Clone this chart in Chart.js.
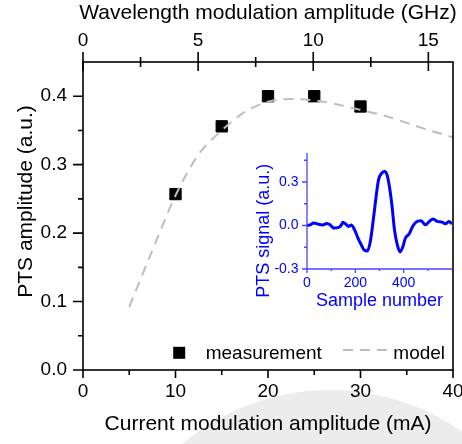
<!doctype html>
<html lang="en">

<head>
    <title>PTS amplitude</title>
    <meta charset="utf-8">
    <script src="https://cdn.jsdelivr.net/npm/chart.js"></script>
    <style>
        html,
        body {
            margin: 0;
            padding: 0;
            background: #fff;
        }

        .wrap {
            position: relative;
            width: 462px;
            height: 444px;
            overflow: hidden;
        }

        #main {
            position: absolute;
            left: 0;
            top: 0;
        }

        #inset {
            position: absolute;
            left: 230px;
            top: 140px;
        }
    </style>
</head>

<body>
    <div class="wrap">
        <canvas id="main" width="462" height="444"></canvas>
        <canvas id="inset" width="232" height="175"></canvas>
    </div>

    <script>

        // main plot: measured points and model curve
        var measCurrent = [10, 15, 20, 25, 30];
        var measAmplitude = [0.257, 0.356, 0.400, 0.400, 0.385];

        var modelCurrent = [5, 7.5, 10, 12.5, 15, 17.5, 20, 22.5, 25, 27.5, 30, 32.5, 35, 37.5, 40];
        var modelAmplitude = [0.092, 0.175, 0.255, 0.315, 0.350, 0.377, 0.392, 0.396, 0.394, 0.388, 0.380, 0.372, 0.361, 0.350, 0.340];

        var currentTicks = [0, 10, 20, 30, 40];
        var wavelengthTicks = [0, 5, 10, 15];
        var amplitudeTicks = [0, 0.1, 0.2, 0.3, 0.4];

        // inset: PTS signal vs sample number
        var sampleNumber = [0, 14, 27, 48, 65, 83, 96, 110, 131, 142, 148, 161, 172, 183, 197, 211, 225, 238, 250, 262,
            276, 286, 296, 310, 321, 331, 341, 352, 362, 374, 385, 396, 407, 423, 437, 451, 472, 490, 506, 522,
            538, 559, 573, 587, 600];
        var ptsSignal = [0.000, 0.005, 0.018, 0.008, 0.004, 0.014, 0.004, -0.017, -0.013, 0.002, 0.022, 0.009, -0.007, 0.004, -0.030, -0.087, -0.135, -0.172, -0.175, -0.110,
            0.062, 0.200, 0.315, 0.362, 0.373, 0.350, 0.269, 0.131, -0.030, -0.135, -0.182, -0.150, -0.088, -0.057, -0.007, 0.023, 0.032, 0.005, 0.028, 0.045,
            0.028, 0.023, 0.012, 0.028, 0.012];

        var sampleTicks = [0, 200, 400];
        var signalTicks = [-0.3, 0, 0.3];

        var FONT = "'Liberation Sans', Arial, sans-serif";
        var BLUE = '#0000ff';
        var GREY = '#bdbdbd';

        function pairs(xs, ys) {
            var out = [];
            for (var i = 0; i < xs.length; i++) {
                out.push({ x: xs[i], y: ys[i] });
            }
            return out;
        }

        function fixedTicks(values) {
            return function (scale) {
                scale.ticks = values.map(function (v) { return { value: v }; });
            };
        }

        function fixSize(w, h) {
            return function (scale) {
                if (w !== null) scale.width = w;
                if (h !== null) scale.height = h;
                scale.paddingLeft = 0;
                scale.paddingRight = 0;
                scale.paddingTop = 0;
                scale.paddingBottom = 0;
            };
        }

        // major ticks come from the scale, minor ticks sit half way between them
        function drawTicks(ctx, scale, outMajor, inMajor, outMinor, inMinor) {
            var area = scale.chart.chartArea;
            var majors = scale.ticks.map(function (t) { return t.value; });
            var minors = [];
            for (var i = 0; i < majors.length; i++) {
                var step = i < majors.length - 1 ? majors[i + 1] - majors[i] : majors[1] - majors[0];
                var m = majors[i] + step / 2;
                if (m < scale.max - 1e-9) minors.push(m);
            }

            function one(v, outLen, inLen) {
                var p = scale.getPixelForValue(v);
                if (scale.position === 'bottom') {
                    ctx.moveTo(p, area.bottom - inLen);
                    ctx.lineTo(p, area.bottom + outLen);
                } else if (scale.position === 'top') {
                    ctx.moveTo(p, area.top + inLen);
                    ctx.lineTo(p, area.top - outLen);
                } else {
                    ctx.moveTo(area.left + inLen, p);
                    ctx.lineTo(area.left - outLen, p);
                }
            }

            ctx.beginPath();
            majors.forEach(function (v) { one(v, outMajor, inMajor); });
            minors.forEach(function (v) { one(v, outMinor, inMinor); });
            ctx.stroke();
        }

        var mainDecor = {
            id: 'mainDecor',
            beforeDraw: function (chart) {
                var ctx = chart.ctx;
                // faint round watermark behind the bottom title
                ctx.save();
                ctx.fillStyle = '#ececec';
                ctx.beginPath();
                ctx.arc(330, 620, 230, 0, Math.PI * 2);
                ctx.fill();
                ctx.restore();
            },
            afterDraw: function (chart) {
                var ctx = chart.ctx;
                var a = chart.chartArea;
                var cx = (a.left + a.right) / 2;

                ctx.save();
                ctx.strokeStyle = '#000';
                ctx.lineWidth = 1.6;
                ctx.strokeRect(a.left, a.top, a.right - a.left, a.bottom - a.top);
                drawTicks(ctx, chart.scales.x, 8, 0, 5, 0);
                drawTicks(ctx, chart.scales.x2, 10, 9, 5, 5);
                drawTicks(ctx, chart.scales.y, 10, 0, 5, 0);

                // axis titles
                ctx.fillStyle = '#000';
                ctx.font = '21px ' + FONT;
                ctx.textAlign = 'center';
                ctx.textBaseline = 'alphabetic';
                ctx.fillText('Wavelength modulation amplitude (GHz)', cx, 19);
                ctx.fillText('Current modulation amplitude (mA)', cx, 430);

                ctx.save();
                ctx.translate(31.5, 201.5);
                ctx.rotate(-Math.PI / 2);
                ctx.fillText('PTS amplitude (a.u.)', 0, 0);
                ctx.restore();

                // legend
                ctx.font = '19px ' + FONT;
                ctx.textAlign = 'left';
                ctx.fillRect(173.2, 346.8, 12, 12);
                ctx.fillText('measurement', 205.7, 359);

                ctx.strokeStyle = GREY;
                ctx.lineWidth = 2;
                ctx.setLineDash([10, 7]);
                ctx.beginPath();
                ctx.moveTo(343, 350);
                ctx.lineTo(392, 350);
                ctx.stroke();
                ctx.setLineDash([]);
                ctx.fillText('model', 393.3, 358.5);
                ctx.restore();
            }
        };

        var insetDecor = {
            id: 'insetDecor',
            afterDraw: function (chart) {
                var ctx = chart.ctx;
                var a = chart.chartArea;

                ctx.save();
                ctx.strokeStyle = 'rgb(70,70,255)';
                ctx.lineWidth = 1.3;
                ctx.beginPath();
                ctx.moveTo(a.left, a.top);
                ctx.lineTo(a.left, a.bottom);
                ctx.lineTo(a.right, a.bottom);
                ctx.stroke();
                drawTicks(ctx, chart.scales.x, 4, 0, 2, 0);
                drawTicks(ctx, chart.scales.y, 5, 0, 3, 0);

                ctx.fillStyle = BLUE;
                ctx.font = '18px ' + FONT;
                ctx.textAlign = 'center';
                ctx.textBaseline = 'alphabetic';
                // canvas sits at (230,140) in the page
                ctx.fillText('Sample number', (a.left + a.right) / 2, 305.5 - 140);

                ctx.translate(268.5 - 230, 230.8 - 140);
                ctx.rotate(-Math.PI / 2);
                ctx.fillText('PTS signal (a.u.)', 0, 0);
                ctx.restore();
            }
        };

        new Chart(document.getElementById('main'), {
            type: 'scatter',
            data: {
                datasets: [{
                    label: 'model',
                    data: pairs(modelCurrent, modelAmplitude),
                    showLine: true,
                    borderColor: GREY,
                    borderWidth: 2,
                    borderDash: [10, 7],
                    pointRadius: 0,
                    cubicInterpolationMode: 'monotone',
                    order: 0
                }, {
                    label: 'measurement',
                    data: pairs(measCurrent, measAmplitude),
                    pointStyle: 'rect',
                    pointRadius: 8,
                    backgroundColor: '#000',
                    borderColor: '#000',
                    borderWidth: 1,
                    order: 1
                }]
            },
            options: {
                responsive: false,
                animation: false,
                events: [],
                layout: { padding: { left: 0, top: 0, right: 9, bottom: 0 } },
                plugins: { legend: { display: false }, tooltip: { enabled: false } },
                scales: {
                    x: {
                        type: 'linear',
                        position: 'bottom',
                        min: 0,
                        max: 40,
                        afterBuildTicks: fixedTicks(currentTicks),
                        afterFit: fixSize(null, 74),
                        grid: { display: false, drawTicks: false },
                        border: { display: false },
                        ticks: {
                            padding: 10,
                            color: '#000',
                            font: { family: FONT, size: 19 },
                            maxRotation: 0,
                            callback: function (v) { return String(v); }
                        }
                    },
                    x2: {
                        type: 'linear',
                        axis: 'x',
                        position: 'top',
                        min: 0,
                        max: 16.07,
                        afterBuildTicks: fixedTicks(wavelengthTicks),
                        afterFit: fixSize(null, 62),
                        grid: { display: false, drawTicks: false },
                        border: { display: false },
                        ticks: {
                            padding: 10,
                            color: '#000',
                            font: { family: FONT, size: 19 },
                            maxRotation: 0,
                            callback: function (v) { return String(v); }
                        }
                    },
                    y: {
                        type: 'linear',
                        position: 'left',
                        min: 0,
                        max: 0.45,
                        afterBuildTicks: fixedTicks(amplitudeTicks),
                        afterFit: fixSize(83, null),
                        grid: { display: false, drawTicks: false },
                        border: { display: false },
                        ticks: {
                            padding: 16,
                            color: '#000',
                            font: { family: FONT, size: 19 },
                            callback: function (v) { return v.toFixed(1); }
                        }
                    }
                }
            },
            plugins: [mainDecor]
        });

        new Chart(document.getElementById('inset'), {
            type: 'scatter',
            data: {
                datasets: [{
                    label: 'PTS signal',
                    data: pairs(sampleNumber, ptsSignal),
                    showLine: true,
                    borderColor: BLUE,
                    borderWidth: 3,
                    pointRadius: 0,
                    cubicInterpolationMode: 'monotone'
                }]
            },
            options: {
                responsive: false,
                animation: false,
                events: [],
                layout: { padding: { left: 0, top: 13, right: 10, bottom: 0 } },
                plugins: { legend: { display: false }, tooltip: { enabled: false } },
                scales: {
                    x: {
                        type: 'linear',
                        position: 'bottom',
                        min: 0,
                        max: 600,
                        afterBuildTicks: fixedTicks(sampleTicks),
                        afterFit: fixSize(null, 46),
                        grid: { display: false, drawTicks: false },
                        border: { display: false },
                        ticks: {
                            padding: 6,
                            color: BLUE,
                            font: { family: FONT, size: 14 },
                            maxRotation: 0,
                            callback: function (v) { return String(v); }
                        }
                    },
                    y: {
                        type: 'linear',
                        position: 'left',
                        min: -0.3,
                        max: 0.5,
                        afterBuildTicks: fixedTicks(signalTicks),
                        afterFit: fixSize(77, null),
                        grid: { display: false, drawTicks: false },
                        border: { display: false },
                        ticks: {
                            padding: 8.5,
                            color: BLUE,
                            font: { family: FONT, size: 14 },
                            callback: function (v) { return v.toFixed(1); }
                        }
                    }
                }
            },
            plugins: [insetDecor]
        });

    </script>
</body>

</html>
